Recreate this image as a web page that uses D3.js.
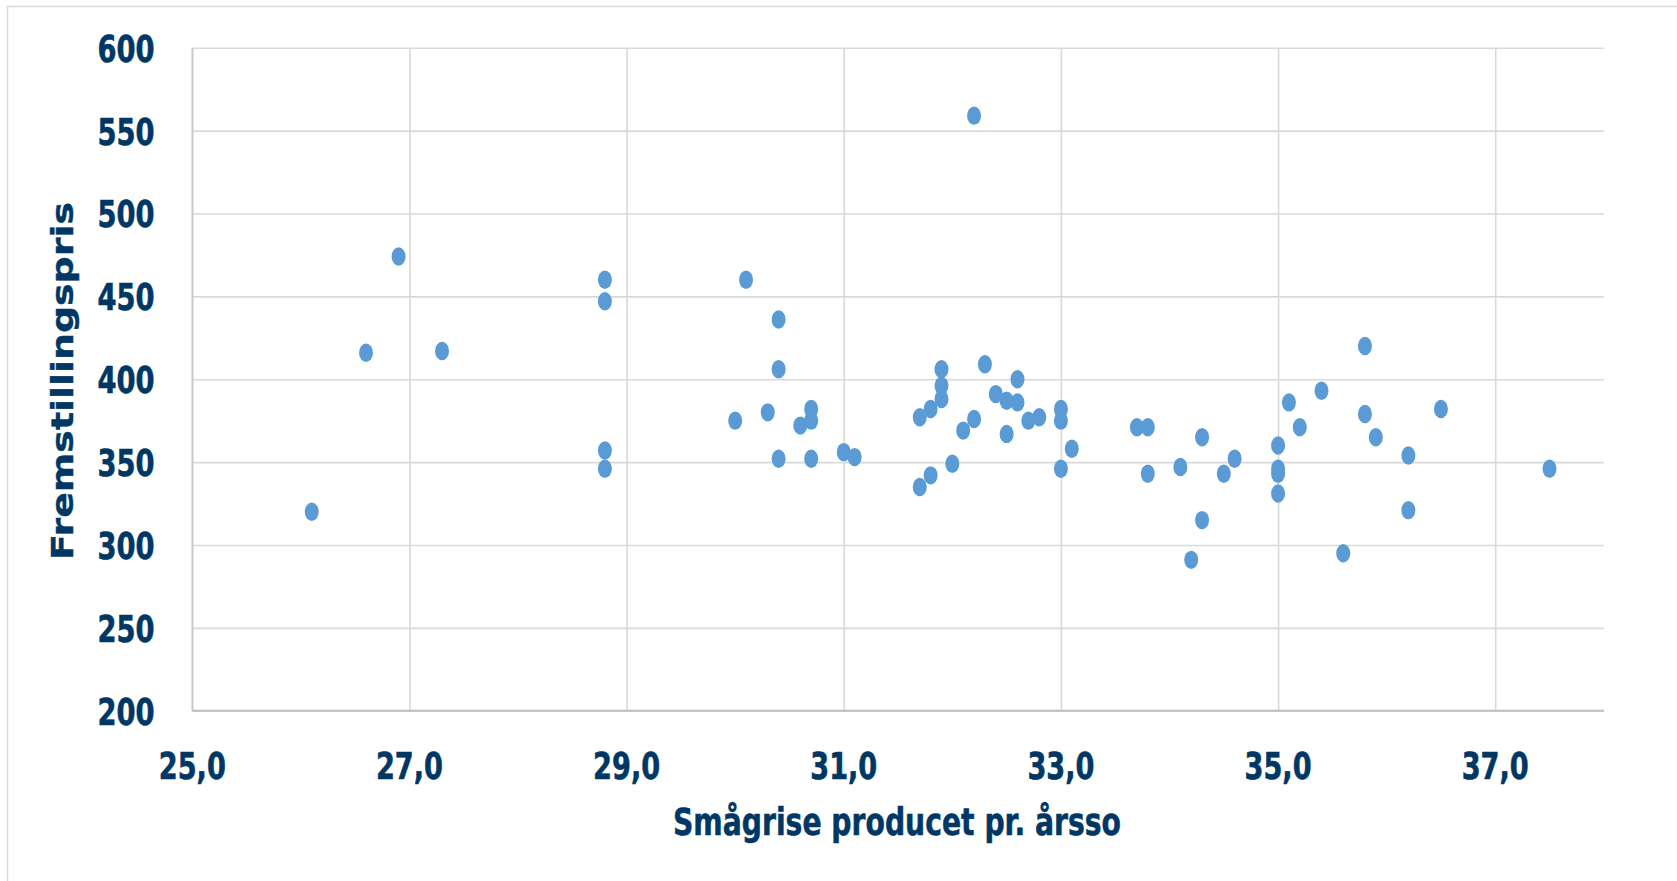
<!DOCTYPE html>
<html>
<head>
<meta charset="utf-8">
<script src="https://cdn.jsdelivr.net/npm/d3@7/dist/d3.min.js"></script>
<style>
  html, body { margin: 0; padding: 0; background: #ffffff; }
  svg { display: block; }
</style>
</head>
<body>
<svg id="chart" width="1677" height="881"></svg>
<script>
// ---- Data ----
const xValues = [
  26.1, 26.6, 26.9, 27.3,
  28.8, 28.8, 28.8, 28.8,
  30.0, 30.1, 30.3, 30.4, 30.4, 30.4, 30.6, 30.7, 30.7, 30.7,
  31.0, 31.1, 31.7, 31.7, 31.8, 31.8, 31.9, 31.9, 31.9, 32.0,
  32.1, 32.2, 32.2, 32.3, 32.4, 32.5, 32.5, 32.6, 32.6, 32.7, 32.8,
  33.0, 33.0, 33.0, 33.1,
  33.7, 33.8, 33.8, 34.1, 34.2, 34.3, 34.3, 34.5, 34.6,
  35.0, 35.0, 35.0, 35.0, 35.1, 35.2, 35.4, 35.6,
  35.8, 35.8, 35.9, 36.2, 36.2, 36.5, 37.5
];
const yValues = [
  320, 416, 474, 417,
  460, 447, 357, 346,
  375, 460, 380, 436, 406, 352, 372, 382, 375, 352,
  356, 353, 377, 335, 382, 342, 406, 396, 388, 349,
  369, 559, 376, 409, 391, 387, 367, 400, 386, 375, 377,
  382, 375, 346, 358,
  371, 371, 343, 347, 291, 365, 315, 343, 352,
  360, 346, 343, 331, 386, 371, 393, 295,
  420, 379, 365, 354, 321, 382, 346
];
const xTicks = [25, 27, 29, 31, 33, 35, 37];
const yTicks = [200, 250, 300, 350, 400, 450, 500, 550, 600];
const xDomain = [25, 38];
const yDomain = [200, 600];
const xTitle = "Smågrise producet pr. årsso";
const yTitle = "Fremstillingspris";

(function () {
// ---- Layout ----
const mLeft = 192.3, mRight = 1603.8, mTop = 47.7, mBottom = 710.7;
const textColor = "#003764";
const dotColor = "#5b9bd5";
const gridColor = "#d9d9d9";
const fontFamily = "'DejaVu Sans', Verdana, sans-serif";

const svg = d3.select("#chart");

// outer chart border
svg.append("rect")
  .attr("x", 7.5).attr("y", 6.5)
  .attr("width", 1720).attr("height", 920)
  .attr("fill", "#ffffff")
  .attr("stroke", gridColor).attr("stroke-width", 1.5);

const x = d3.scaleLinear().domain(xDomain).range([mLeft, mRight]);
const y = d3.scaleLinear().domain(yDomain).range([mBottom, mTop]);

// horizontal gridlines
const yAxis = d3.axisLeft(y).tickValues(yTicks).tickSize(-(mRight - mLeft)).tickFormat("");
const gy = svg.append("g").attr("transform", `translate(${mLeft},0)`).call(yAxis);
gy.select(".domain").remove();
gy.selectAll(".tick line").attr("stroke", gridColor).attr("stroke-width", 1.6);

// vertical gridlines
const xAxis = d3.axisBottom(x).tickValues(xTicks).tickSize(-(mBottom - mTop)).tickFormat("");
const gx = svg.append("g").attr("transform", `translate(0,${mBottom})`).call(xAxis);
gx.select(".domain").remove();
gx.selectAll(".tick line").attr("stroke", gridColor).attr("stroke-width", 1.6);

// axis lines
svg.append("line").attr("x1", mLeft).attr("x2", mLeft).attr("y1", mTop).attr("y2", mBottom)
  .attr("stroke", "#c8c8c8").attr("stroke-width", 1.6);
svg.append("line").attr("x1", mLeft).attr("x2", mRight).attr("y1", mBottom).attr("y2", mBottom)
  .attr("stroke", "#bfbfbf").attr("stroke-width", 2);

// y tick labels
const fmtY = d3.format("d");
svg.append("g").selectAll("text").data(yTicks).join("text")
  .attr("x", 154.5)
  .attr("y", d => y(d) + 14)
  .attr("text-anchor", "end")
  .attr("font-family", fontFamily).attr("font-weight", "bold")
  .attr("font-size", 38).attr("fill", textColor)
  .attr("stroke", textColor).attr("stroke-width", 0.7)
  .attr("textLength", 57).attr("lengthAdjust", "spacingAndGlyphs")
  .text(d => fmtY(d));

// x tick labels
const fmtX = d => d3.format(".1f")(d).replace(".", ",");
svg.append("g").selectAll("text").data(xTicks).join("text")
  .attr("x", d => x(d) - 33.5)
  .attr("y", 778.5)
  .attr("font-family", fontFamily).attr("font-weight", "bold")
  .attr("font-size", 38).attr("fill", textColor)
  .attr("stroke", textColor).attr("stroke-width", 0.7)
  .attr("textLength", 67).attr("lengthAdjust", "spacingAndGlyphs")
  .text(d => fmtX(d));

// x title
svg.append("text")
  .attr("x", 673).attr("y", 835)
  .attr("font-family", fontFamily).attr("font-weight", "bold")
  .attr("font-size", 37).attr("fill", textColor)
  .attr("stroke", textColor).attr("stroke-width", 0.6)
  .attr("textLength", 448).attr("lengthAdjust", "spacingAndGlyphs")
  .text(xTitle);

// y title
svg.append("text")
  .attr("transform", `translate(72.5,560) rotate(-90)`)
  .attr("x", 0).attr("y", 0)
  .attr("font-family", fontFamily).attr("font-weight", "bold")
  .attr("font-size", 30.5).attr("fill", textColor)
  .attr("stroke", textColor).attr("stroke-width", 0.4)
  .attr("textLength", 358).attr("lengthAdjust", "spacingAndGlyphs")
  .text(yTitle);

// points
const pts = xValues.map((v, i) => ({ x: v, y: yValues[i] }));
svg.append("g").selectAll("ellipse").data(pts).join("ellipse")
  .attr("cx", d => x(d.x))
  .attr("cy", d => y(d.y))
  .attr("rx", 7).attr("ry", 9.2)
  .attr("fill", dotColor);
})();
</script>
</body>
</html>
